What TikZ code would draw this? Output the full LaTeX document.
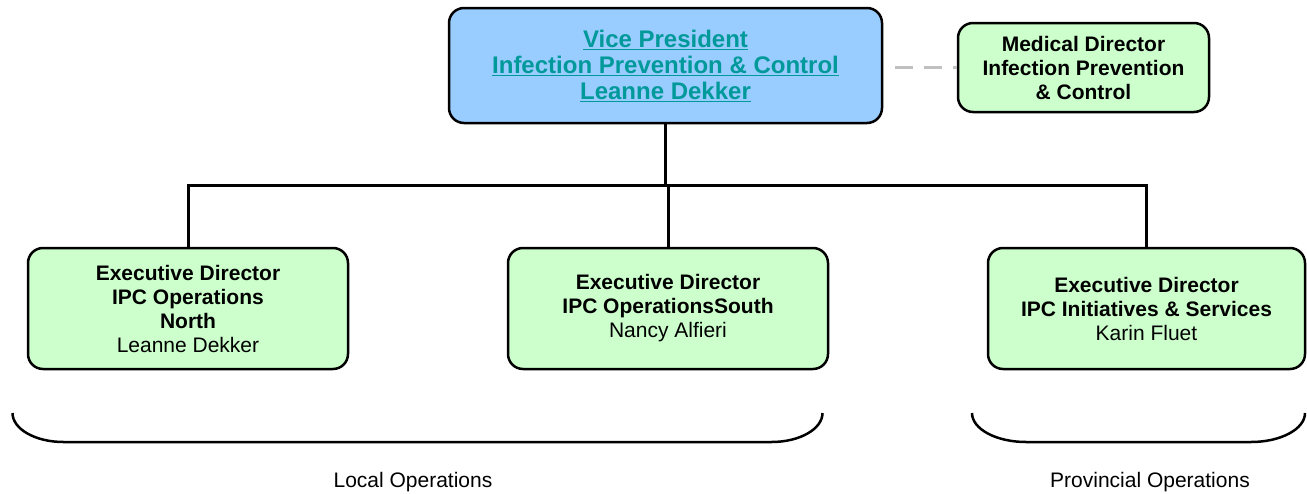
\documentclass[tikz,border=0pt]{standalone}
\usepackage{fontspec}
\setmainfont{Liberation Sans}
\definecolor{vpfill}{HTML}{99CCFF}
\definecolor{edfill}{HTML}{CCFFCC}
\definecolor{vptext}{HTML}{009999}
\definecolor{dashgray}{HTML}{C0C0C0}
\tikzset{
  orgbox/.style={draw=black, line width=2.5pt, rounded corners=15pt, align=center, inner sep=0pt},
  vpbox/.style={orgbox, fill=vpfill, text=vptext, minimum width=433pt, minimum height=115pt, font=\fontsize{24}{26}\selectfont\bfseries},
  edbox/.style={orgbox, fill=edfill, minimum width=320pt, minimum height=121pt, font=\fontsize{21}{24}\selectfont},
  mdbox/.style={orgbox, fill=edfill, minimum width=251pt, minimum height=89pt, font=\fontsize{21}{24}\selectfont\bfseries},
  conn/.style={draw=black, line width=3pt},
  dotted link/.style={draw=dashgray, line width=3.5pt, dash pattern=on 18pt off 11pt},
  bracket/.style={draw=black, line width=2.5pt},
  grouplabel/.style={font=\fontsize{21}{24}\selectfont, inner sep=0pt}
}
\begin{document}
\begin{tikzpicture}[x=1pt, y=-1pt]
\useasboundingbox (0,0) rectangle (1307,493);
% nodes
\node[vpbox] (vp) at (665.5,65.5) {\underline{Vice President}\\\underline{Infection Prevention \& Control}\\\underline{Leanne Dekker}};
\node[mdbox] (md) at (1083.5,67.5) {Medical Director\\Infection Prevention\\\& Control};
\node[edbox] (ed1) at (188,308.5) {\textbf{Executive Director}\\\textbf{IPC Operations}\\\textbf{North}\\Leanne Dekker};
\node[edbox] (ed2) at (668,308.5) {\textbf{Executive Director}\\\textbf{IPC OperationsSouth}\\Nancy Alfieri};
\node[edbox, minimum width=317pt] (ed3) at (1146.5,308.5) {\textbf{Executive Director}\\\textbf{IPC Initiatives \& Services}\\Karin Fluet};
% connectors
\coordinate (j) at (666.5,185);
\draw[conn] (vp.south) -- (vp.south |- j);
\draw[conn] (ed1.north) -- (ed1.north |- j) -- (ed3.north |- j) -- (ed3.north);
\draw[conn] (ed2.north) -- (ed2.north |- j);
\draw[dotted link, shorten <=12pt] (vp.east |- md.west) -- (md.west);
% brackets
\draw[bracket] (12.5,413) arc[start angle=180, end angle=90, x radius=51, y radius=29] -- (771.5,442) arc[start angle=90, end angle=0, x radius=51, y radius=29];
\draw[bracket] (972,413) arc[start angle=180, end angle=90, x radius=54, y radius=29] -- (1251,442) arc[start angle=90, end angle=0, x radius=54, y radius=29];
% labels
\node[grouplabel] (lo) at (413,482) {Local Operations};
\node[grouplabel] (po) at (1150,482) {Provincial Operations};
\end{tikzpicture}
\end{document}
